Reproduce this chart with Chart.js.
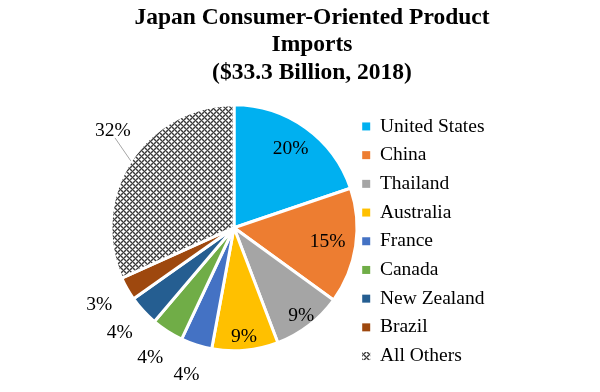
<!DOCTYPE html>
<html>
<head>
<meta charset="utf-8">
<script src="https://cdn.jsdelivr.net/npm/chart.js@4.4.0/dist/chart.umd.min.js"></script>
<style>
  html, body { margin: 0; padding: 0; background: #fff; }
  #wrap { width: 600px; height: 392px; }
</style>
</head>
<body>
<div id="wrap"><canvas id="chart"></canvas></div>
<script>
// data (share of imports, %)
const categories = ['United States', 'China', 'Thailand', 'Australia', 'France', 'Canada', 'New Zealand', 'Brazil', 'All Others'];
const shares = [19.8, 15.2, 9.2, 8.7, 4.1, 4.2, 4.0, 3.1, 31.7];
const titleLines = ['Japan Consumer-Oriented Product', 'Imports', '($33.3 Billion, 2018)'];

const FONT = '"Liberation Serif", "Times New Roman", serif';

// small grey diamond fill used for "All Others"
function makeDiamondPattern() {
  const rows = ['wwgkgw', 'wgkgkg', 'gkgwgk', 'kgwwwg', 'gkgwgk', 'wgkgkg'];
  const shade = { w: '#ffffff', g: '#9a9a9a', k: '#3a3a3a' };
  const c = document.createElement('canvas');
  c.width = 6; c.height = 6;
  const g = c.getContext('2d');
  rows.forEach((row, y) => {
    [...row].forEach((ch, x) => {
      g.fillStyle = shade[ch];
      g.fillRect(x, y, 1, 1);
    });
  });
  return g.createPattern(c, 'repeat');
}

const colors = ['#00b0f0', '#ed7d31', '#a5a5a5', '#ffc000', '#4472c4', '#70ad47', '#255e91', '#9e480e', makeDiamondPattern()];

// percentage labels, inside for the big slices, outside for the small ones
const sliceLabels = {
  id: 'sliceLabels',
  afterDatasetsDraw(chart, args, opts) {
    const { ctx } = chart;
    const meta = chart.getDatasetMeta(0);
    const total = shares.reduce((a, b) => a + b, 0);
    ctx.save();
    ctx.font = '19.5px ' + FONT;
    ctx.fillStyle = '#000';
    ctx.textAlign = 'center';
    ctx.textBaseline = 'middle';
    meta.data.forEach((arc, i) => {
      const { x, y, startAngle, endAngle, outerRadius } =
        arc.getProps(['x', 'y', 'startAngle', 'endAngle', 'outerRadius'], true);
      const mid = (startAngle + endAngle) / 2;
      const inside = opts.inside[i];
      const d = inside ? outerRadius * inside : outerRadius + opts.outside;
      const a = mid + (opts.nudge[i] || 0);
      const lx = x + Math.cos(a) * d;
      const ly = y + Math.sin(a) * d;
      if (opts.leader[i]) {
        ctx.strokeStyle = '#a6a6a6';
        ctx.lineWidth = 1;
        ctx.beginPath();
        ctx.moveTo(x + Math.cos(mid) * outerRadius, y + Math.sin(mid) * outerRadius);
        ctx.lineTo(lx + 2, ly + 7);
        ctx.stroke();
      }
      ctx.fillText(Math.round(shares[i] / total * 100) + '%', lx, ly);
    });
    ctx.restore();
  }
};

// widen the legend box so the title sits centred over pie + legend like the original
const legendWidth = {
  id: 'legendWidth',
  beforeInit(chart) {
    const legend = chart.legend;
    if (!legend) return;
    const fit = legend.fit;
    legend.fit = function () {
      fit.call(this);
      this.width = 156;
    };
  }
};

const ctx = document.getElementById('chart');
const chart = new Chart(ctx, {
  type: 'pie',
  data: {
    labels: categories,
    datasets: [{
      data: shares,
      backgroundColor: colors,
      borderColor: '#ffffff',
      borderWidth: 3,
      hoverOffset: 0,
    }],
  },
  plugins: [sliceLabels, legendWidth],
  options: {
    responsive: true,
    maintainAspectRatio: false,
    animation: false,
    radius: 123,
    layout: {
      padding: { left: 115, right: 91, top: 0, bottom: 17 },
    },
    plugins: {
      title: {
        display: true,
        text: titleLines,
        color: '#000',
        font: { family: FONT, size: 23.5, weight: 'bold', lineHeight: 1.17 },
        padding: { top: 4, bottom: -6 },
      },
      legend: {
        position: 'right',
        fullSize: true,
        align: 'end',
        labels: {
          color: '#000',
          font: { family: FONT, size: 19.5 },
          boxWidth: 8,
          boxHeight: 8,
          padding: 9.2,
          generateLabels: (c) => {
            const items = Chart.overrides.pie.plugins.legend.labels.generateLabels(c);
            return items.map((it) => ({ ...it, lineWidth: 0 }));
          },
        },
      },
      tooltip: { enabled: false },
      sliceLabels: {
        inside: [0.79, 0.77, 0.9, 0.89, 0, 0, 0, 0, 0],
        outside: 32,
        nudge: [0, 0, 0, 0, 0, 0, 0, 0, 0.1],
        leader: [false, false, false, false, false, false, false, false, true],
      },
    },
  },
});
</script>
</body>
</html>
